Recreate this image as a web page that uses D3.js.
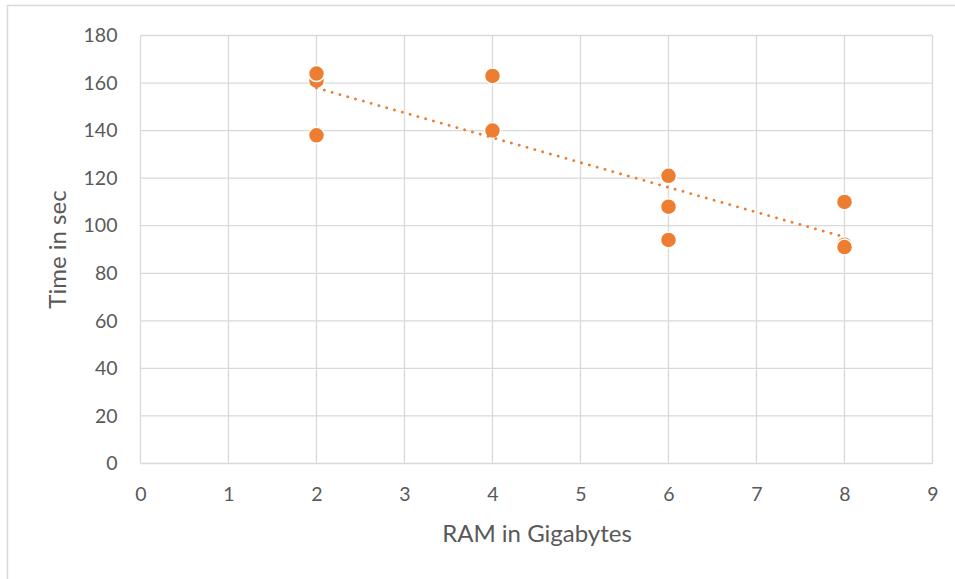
<!DOCTYPE html>
<html>
<head>
<meta charset="utf-8">
<script src="https://cdn.jsdelivr.net/npm/d3@7"></script>
<style>
  html, body { margin: 0; padding: 0; background: #fff; }
  text { font-family: Lato, "Open Sans", sans-serif; fill: #595959; }
</style>
</head>
<body>
<svg id="chart" width="955" height="579"></svg>
<script>
// RAM size (GB) vs. run time (s), in drawing order
const ramGb   = [2, 2, 2, 4, 4, 6, 6, 6, 8, 8, 8];
const timeSec = [161, 164, 138, 163, 140, 121, 108, 94, 110, 92, 91];
const xTicks = [0, 1, 2, 3, 4, 5, 6, 7, 8, 9];
const yTicks = [0, 20, 40, 60, 80, 100, 120, 140, 160, 180];
const xTitle = "RAM in Gigabytes";
const yTitle = "Time in sec";

const svg = d3.select("#chart");
const orange = "#ED7D31";
const grid = "#d9d9d9";

// chart frame
svg.append("rect")
  .attr("x", 7.5).attr("y", 5.5).attr("width", 960).attr("height", 600)
  .attr("fill", "none").attr("stroke", grid).attr("stroke-width", 1.5);

const x = d3.scaleLinear().domain([0, 9]).range([140.5, 932.5]);
const y = d3.scaleLinear().domain([0, 180]).range([463.5, 35.5]);

// gridlines
svg.append("g").selectAll("line").data(xTicks).join("line")
  .attr("x1", d => x(d)).attr("x2", d => x(d))
  .attr("y1", y(0)).attr("y2", y(180))
  .attr("stroke", grid).attr("stroke-width", 1.3);
svg.append("g").selectAll("line").data(yTicks).join("line")
  .attr("x1", x(0)).attr("x2", x(9))
  .attr("y1", d => y(d)).attr("y2", d => y(d))
  .attr("stroke", grid).attr("stroke-width", 1.3);

// axes (labels only)
const xAxis = svg.append("g").attr("transform", `translate(0,${y(0)})`)
  .call(d3.axisBottom(x).tickValues(xTicks).tickSize(0).tickPadding(24));
const yAxis = svg.append("g").attr("transform", `translate(${x(0)},0)`)
  .call(d3.axisLeft(y).tickValues(yTicks).tickSize(0).tickPadding(23));
[xAxis, yAxis].forEach(g => {
  g.select(".domain").remove();
  g.selectAll("text").style("font-size", "19.5px").attr("fill", "#595959");
});

// axis titles
svg.append("text").attr("x", 537).attr("y", 542)
  .attr("text-anchor", "middle").style("font-size", "24px").text(xTitle);
svg.append("text")
  .attr("transform", `translate(66,${y(90)}) rotate(-90)`)
  .attr("text-anchor", "middle").style("font-size", "24px").text(yTitle);

// points
const pts = ramGb.map((r, i) => ({ r, t: timeSec[i] }));
svg.append("g").selectAll("circle").data(pts).join("circle")
  .attr("cx", d => x(d.r)).attr("cy", d => y(d.t)).attr("r", 8)
  .attr("fill", orange).attr("stroke", "#fff").attr("stroke-width", 1.5);

// least-squares linear trendline over the data range
const mx = d3.mean(ramGb), my = d3.mean(timeSec);
const slope = d3.sum(pts, d => (d.r - mx) * (d.t - my)) / d3.sum(pts, d => (d.r - mx) ** 2);
const icpt = my - slope * mx;
const [x0, x1] = d3.extent(ramGb);
svg.append("line")
  .attr("x1", x(x0)).attr("y1", y(icpt + slope * x0))
  .attr("x2", x(x1)).attr("y2", y(icpt + slope * x1))
  .attr("stroke", orange).attr("stroke-width", 2.8)
  .attr("stroke-linecap", "round").attr("stroke-dasharray", "0.1 8");
</script>
</body>
</html>
